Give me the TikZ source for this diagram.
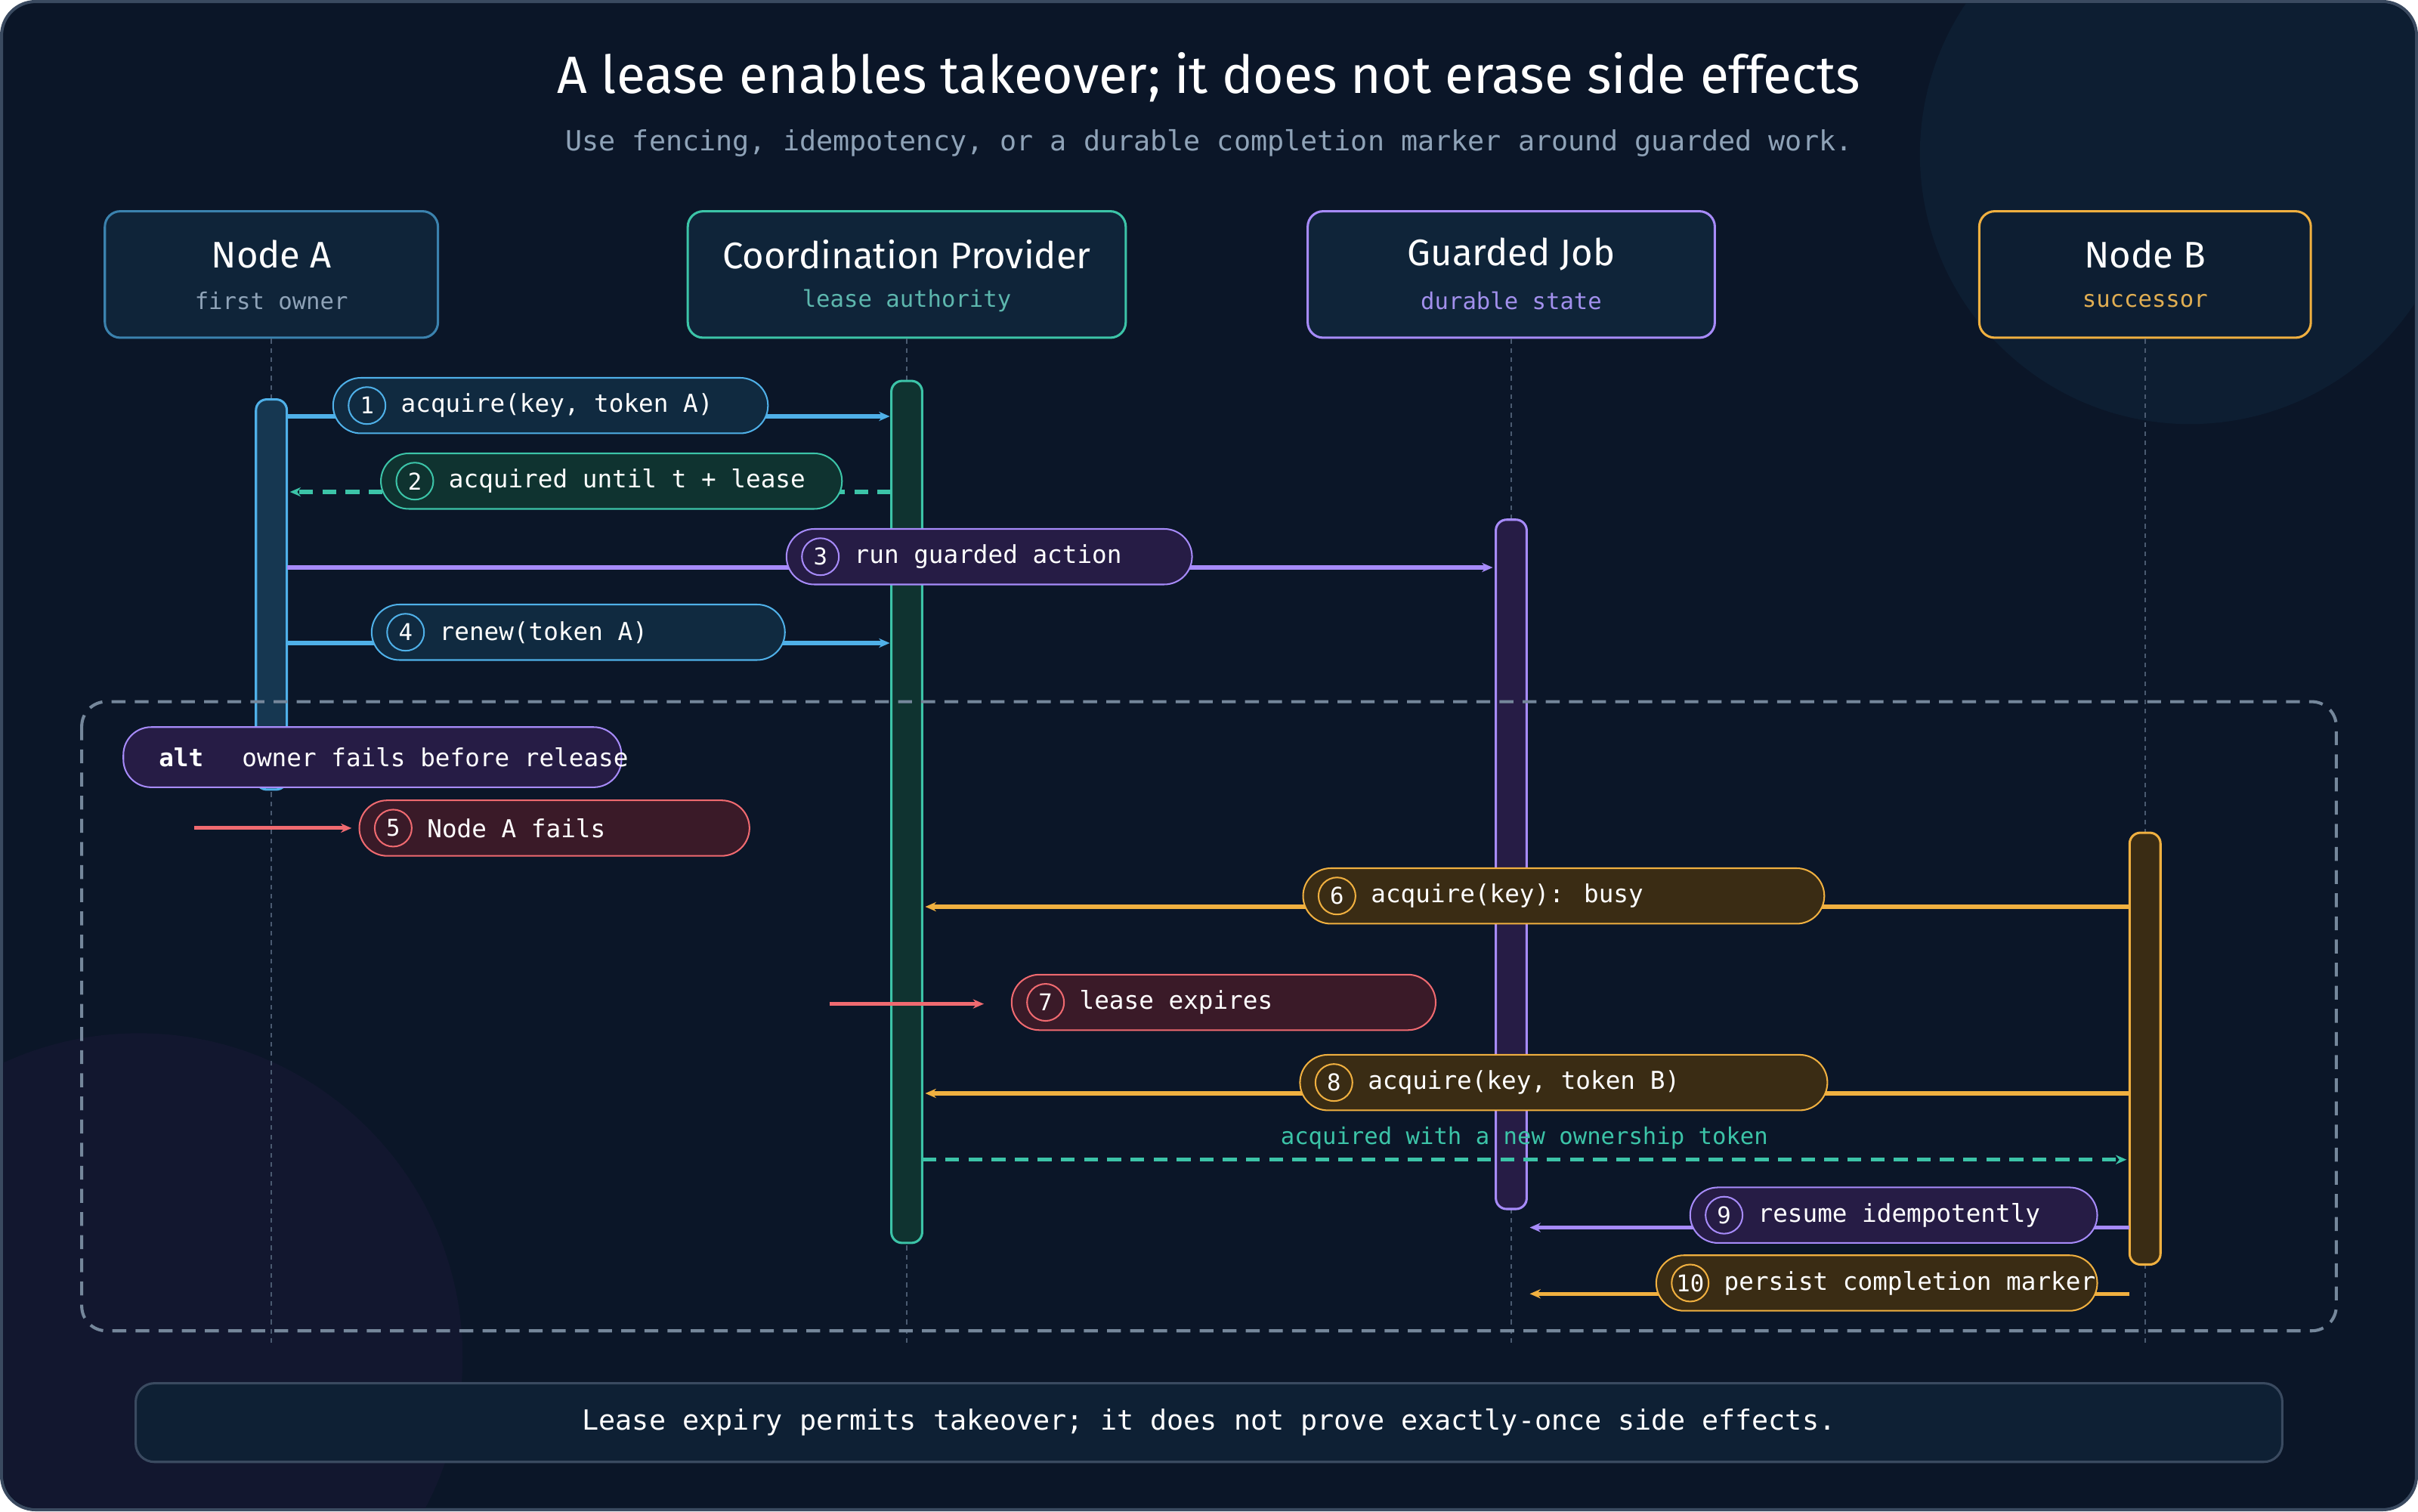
\documentclass[tikz,border=0pt]{standalone}
\usepackage{fontspec}
\setmainfont{Fira Sans}
\newfontfamily\monofont{DejaVu Sans Mono}
\usetikzlibrary{arrows.meta,positioning}
\definecolor{bg}{HTML}{0B1628}
\definecolor{frame}{HTML}{3A4A60}
\definecolor{cblue}{HTML}{4FB0E8}
\definecolor{fblue}{HTML}{102A40}
\definecolor{cteal}{HTML}{3CC4A8}
\definecolor{fteal}{HTML}{0F3330}
\definecolor{cpurp}{HTML}{A78BFA}
\definecolor{fpurp}{HTML}{261C45}
\definecolor{corng}{HTML}{F0B040}
\definecolor{forng}{HTML}{3A2C14}
\definecolor{cred}{HTML}{F06A70}
\definecolor{fred}{HTML}{3A1A28}
\definecolor{lgrey}{HTML}{8FA3B8}
\definecolor{lline}{HTML}{4A5A70}
\newcommand\msgpill[7]{% name, left x, width, y, colour, number, text
  \node[pill, draw=c#5, fill=f#5, minimum width=#3] (#1) at (#2+#3/2,#4) {};
  \node[num, draw=c#5] (#1n) at (#2+22,#4) {#6};
  \node[lbl, right=6pt of #1n] (#1t) {#7};}
\begin{document}
\begin{tikzpicture}[x=1pt, y=-1pt,% pixel grid, y downwards
        > = {Stealth[length=7pt,width=6pt]},
head/.style = {draw, line width=1.5pt, rounded corners=10pt, fill=fblue!70!bg,
               minimum width=#1, minimum height=82pt},
pill/.style = {line width=1pt, rounded corners=18pt, minimum height=36pt},
 num/.style = {circle, line width=1pt, minimum size=24pt, inner sep=0pt,
               text=white, font=\monofont\fontsize{15}{15}\selectfont},
 lbl/.style = {text=white, font=\monofont\fontsize{16}{16}\selectfont},
 sub/.style = {font=\monofont\fontsize{15}{15}\selectfont},
life/.style = {lline, dashed, line width=1.2pt},
 bar/.style = {line width=1.5pt, rounded corners=7pt},
 msg/.style = {->, line width=2.5pt},
                    ]
  % background
  \draw[frame, line width=2pt, fill=bg, rounded corners=22pt] (1,1) rectangle (1567,979);
  \begin{scope}
    \clip[rounded corners=22pt] (2,2) rectangle (1566,978);
    \fill[fblue!40!bg] (1420,100) circle (175);
    \fill[fpurp!25!bg] (90,880) circle (210);
  \end{scope}
  % title
  \node[text=white, font=\fontsize{34}{34}\selectfont] (title) at (784,50)
    {A lease enables takeover; it does not erase side effects};
  \node[text=lgrey, font=\monofont\fontsize{18}{18}\selectfont] (subtitle) at (784,93)
    {Use fencing, idempotency, or a durable completion marker around guarded work.};
  % participants
  \node[head=216pt, draw=cblue!70!bg] (A) at (176,178) {};
  \node[head=284pt, draw=cteal] (P) at (588,178) {};
  \node[head=264pt, draw=cpurp] (J) at (980,178) {};
  \node[head=215pt, draw=corng, fill=fblue!40!bg] (B) at (1391,178) {};
  \foreach \p/\t/\s/\c in {A/Node A/first owner/lgrey, P/Coordination Provider/lease authority/cteal!60!lgrey,
                           J/Guarded Job/durable state/cpurp!80!lgrey, B/Node B/successor/corng!85!lgrey}{
    \node[text=white, font=\fontsize{24}{24}\selectfont] at ([yshift=13pt]\p.center) {\t};
    \node[sub, text=\c] at ([yshift=-17pt]\p.center) {\s};
  }
  % lifelines
  \foreach \p in {A,P,J,B}
    \draw[life] (\p.south) -- ++(0,652);
  % activation bars
  \draw[bar, draw=cblue, fill=fblue!90!cblue] (166,259) rectangle (186,512);
  \draw[bar, draw=cteal, fill=fteal] (578,247) rectangle (598,806);
  \draw[bar, draw=cpurp, fill=fpurp] (970,337) rectangle (990,784);
  \draw[bar, draw=corng, fill=forng] (1381,540) rectangle (1401,820);
  % alt frame
  \draw[lgrey!80!bg, dashed, line width=2pt, dash pattern=on 9pt off 6pt, rounded corners=16pt]
    (53,455) rectangle (1515,863);
  \node[pill, draw=cpurp, fill=fpurp, minimum width=323pt, minimum height=39pt] (alt) at (241.5,491) {};
  \node[lbl, font=\monofont\bfseries\fontsize{16}{16}\selectfont, right=20pt of alt.west] (altk) {alt};
  \node[lbl, right=18pt of altk] (altt) {owner fails before release};
  % message ends
  \coordinate (a1) at (186,270);  \coordinate (p1) at (577,270);
  \coordinate (p2) at (578,319);  \coordinate (a2) at (188,319);
  \coordinate (a3) at (186,368);  \coordinate (j3) at (968,368);
  \coordinate (a4) at (186,417);  \coordinate (p4) at (577,417);
  \coordinate (s5) at (126,537);  \coordinate (e5) at (228,537);
  \coordinate (b6) at (1381,588); \coordinate (p6) at (600,588);
  \coordinate (s7) at (538,651);  \coordinate (e7) at (638,651);
  \coordinate (b8) at (1381,709); \coordinate (p8) at (600,709);
  \coordinate (pt) at (598,752);  \coordinate (bt) at (1379,752);
  \coordinate (b9) at (1381,796); \coordinate (j9) at (992,796);
  \coordinate (bx) at (1381,839); \coordinate (jx) at (992,839);
  % messages
  \draw[msg, cblue] (a1) -- (p1);
  \draw[msg, cteal, dashed, dash pattern=on 9pt off 6pt] (p2) -- (a2);
  \draw[msg, cpurp] (a3) -- (j3);
  \draw[msg, cblue] (a4) -- (p4);
  \draw[msg, cred] (s5) -- (e5);
  \draw[msg, corng] (b6) -- (p6);
  \draw[msg, cred] (s7) -- (e7);
  \draw[msg, corng] (b8) -- (p8);
  \draw[msg, cteal, dashed, dash pattern=on 9pt off 6pt] (pt) -- (bt)
    node[midway, above=2pt, text=cteal, font=\monofont\fontsize{15}{15}\selectfont] (tok)
    {acquired with a new ownership token};
  \draw[msg, cpurp] (b9) -- (j9);
  \draw[msg, corng] (bx) -- (jx);
  % labels
  \msgpill{m1}{216}{282}{263}{blue}{1}{acquire(key, token A)}
  \msgpill{m2}{247}{299}{312}{teal}{2}{acquired until t + lease}
  \msgpill{m3}{510}{263}{361}{purp}{3}{run guarded action}
  \msgpill{m4}{241}{268}{410}{blue}{4}{renew(token A)}
  \msgpill{m5}{233}{253}{537}{red}{5}{Node A fails}
  \msgpill{m6}{845}{338}{581}{orng}{6}{acquire(key): busy}
  \msgpill{m7}{656}{275}{650}{red}{7}{lease expires}
  \msgpill{m8}{843}{342}{702}{orng}{8}{acquire(key, token B)}
  \msgpill{m9}{1096}{264}{788}{purp}{9}{resume idempotently}
  \msgpill{m10}{1074}{286}{832}{orng}{10}{persist completion marker}
  % footer
  \node[draw=frame, line width=1.5pt, fill=fblue!50!bg, rounded corners=12pt,
        minimum width=1392pt, minimum height=51pt, text=white,
        font=\monofont\fontsize{18}{18}\selectfont] (foot) at (784,922.5)
    {Lease expiry permits takeover; it does not prove exactly-once side effects.};
\end{tikzpicture}
\end{document}
